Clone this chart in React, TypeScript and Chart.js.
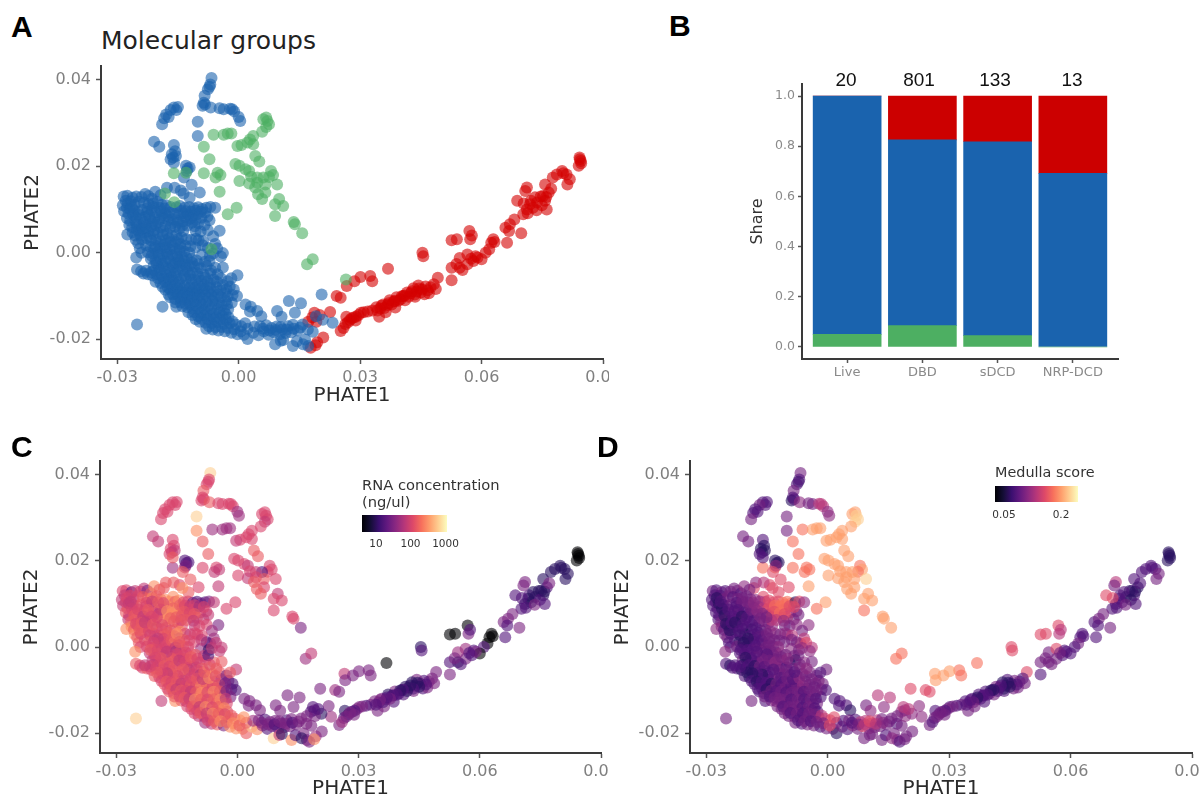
import React, { useEffect, useRef } from "react";
import { Chart, registerables } from "chart.js";

Chart.register(...registerables);

// Rows: PHATE1 (x1000), PHATE2 (x1000), RNA colour level, medulla colour level
const greenPoints = [
  [6.8,31.3,6,8],[6.1,30.9,6,8],[7.1,30.5,6,9],[7.5,29.7,6,9],[6.8,29.1,5,9],[5.8,28,6,8],[-6.2,27.3,4,7],[-3.7,27.3,4,8],[-2.7,27.6,4,8],[-1.8,27.6,4,8],
  [3.6,27,6,8],[2.8,26.2,6,8],[2.2,25.5,6,8],[0.7,24.9,6,8],[-0.3,24.7,5,8],[3.6,25.1,6,8],[-8.6,24.5,7,7],[-7.2,21.6,7,7],[4.1,22.4,7,8],[5.1,21.1,7,8],
  [-0.8,20.5,6,8],[0.2,20.1,6,8],[1.7,19.3,6,8],[2.6,18.9,5,8],[-8.6,18.4,6,7],[-5.2,18.5,6,7],[-4.5,18,5,7],[-5.7,17.4,5,7],[8,18.9,6,7],[8.5,18,6,8],
  [7.5,17.5,6,7],[6.1,17.4,2,8],[4.6,17.4,5,8],[3.1,17.6,6,8],[0.2,16.6,6,8],[2.6,16,5,8],[4.6,16.2,6,8],[6.6,15.8,7,8],[9.5,15.8,6,9],[4.1,15.1,7,8],
  [6.6,13.9,6,8],[-4.7,14.1,5,8],[4.8,13.5,7,8],[5.8,12.4,7,8],[10,12.4,5,8],[9,11.2,6,8],[11,10.8,6,8],[-0.5,10.4,6,8],[-2.7,8.9,6,7],[9,8.5,6,7],
  [13.6,7.1,6,8],[13.9,6.6,6,8],[15.7,4.5,3,8],[16.9,-2.7,4,7],[18.3,-1.5,5,7],[26.5,-6.2,5,8],[-16,18.4,4,7],[-13,18.5,5,7],[-18.2,13.7,7,6],[-15.9,11.7,8,6],[-6.7,0.8,4,6],
];

const bluePointsUpper = [
  [-6.7,40.4,9,3],[-7.2,38.4,6,1],[-7.6,37.8,6,2],[-7,38.9,6,2],[-8.4,36.3,7,3],[-8.6,34.7,6,2],[-8.9,34,6,1],[-8.3,34.3,6,2],[-6.9,33.6,7,4],[-4.7,33.4,6,3],[-3.7,33.2,6,3],[-1.6,33.2,6,5],[-2.1,33.3,6,5],
  [-1.1,32.7,6,5],[0,31.4,4,4],[0.4,30.5,4,4],[-10.1,30.3,9,3],[-10.1,27,8,3],[-15,33.7,6,2],[-16,33.6,6,2],[-15.4,33,6,2],[-16.8,33,6,3],[-17.9,32,6,2],[-17.3,31.4,6,2],[-18.4,31.1,6,2],
  [-18.9,29.7,6,3],[-20.9,25.7,5,3],[-19.6,24.5,5,3],[-16,24.9,6,2],[-15.7,23.5,6,1],[-16.5,22.8,6,1],[-15.5,22.4,5,1],[-16.2,22,5,1],[-16.8,21.6,6,2],[-16,20.8,7,2],[-13,20.1,2,1],
  [-12.1,19.7,2,1],[-12.6,19.5,2,1],[-12.8,18.9,3,4],[-13.5,17.4,7,6],[-11.6,15.7,7,6],[-14.3,14.4,6,6],[-9.6,13.9,6,6],[-12.1,12.7,7,6],[-17.7,15,7,4],[-15.8,15,7,5],[-13.6,13.7,8,6],
];

const bluePointsMass = [
  [-28.4,13,6,3],[-27.5,13.2,6,2],[-26.2,12.7,2,3],[-25.3,13,5,2],[-24,12.9,6,3],[-23.1,13.6,5,3],[-22.3,13.1,3,3],[-21.4,12.5,7,2],[-20.6,14.1,8,4],[-19.3,13.3,7,3],
  [-27.9,12,5,2],[-28.6,11,5,2],[-27.6,10.4,6,2],[-28.3,9.6,5,2],[-27.2,9,6,2],[-27.6,8,7,2],[-26.8,7.4,6,2],[-27,6.4,5,2],[-26.3,5.8,7,3],[-26.2,4.7,8,3],
  [-27.5,4.2,8,4],[-25.6,4,7,2],[-25.4,3,8,3],[-24.8,2.2,7,3],[-24.4,1,7,2],[-24,0,6,2],[-25.3,-1.1,8,4],[-25.1,-3.9,7,2],[-24.1,-4.3,6,1],[-23.5,-4.8,6,2],
  [-26.6,11.9,6,2],[-25.7,11.1,5,3],[-24.6,11.8,6,3],[-23.4,11.6,7,2],[-22.2,11.2,7,3],[-21.1,11.4,8,3],[-20,11.8,7,3],[-19,11.1,7,3],[-17.9,11,8,4],[-16.8,10.6,8,4],
  [-15.4,10.5,7,5],[-14.5,10.8,8,6],[-13.3,10.4,6,6],[-12.2,10.6,6,6],[-11,10.3,3,7],[-10,10.5,2,7],[-9,10.1,3,7],[-8,10.4,2,1],[-7,10.6,3,6],[-5.8,10.4,5,4],
  [-25.9,9.8,6,2],[-24.9,9.5,6,2],[-23.8,9.9,7,3],[-22.6,9.4,6,2],[-21.5,9.8,7,3],[-20.4,9.3,5,3],[-19.2,9.6,8,3],[-18.1,9.1,8,3],[-17,9.3,8,4],[-15.9,9,7,5],
  [-14.7,8.9,8,6],[-13.6,9.1,7,6],[-12.5,8.8,7,7],[-11.3,8.6,6,6],[-10.3,8.9,7,6],[-9.2,8.1,5,5],[-7.7,8.3,6,4],[-25.4,8.2,6,2],[-24.2,7.9,7,3],[-23,8.3,6,2],
  [-21.9,7.8,7,3],[-20.7,8.1,6,2],[-19.6,7.6,5,2],[-18.4,8,7,3],[-17.3,7.5,8,3],[-16.1,7.8,8,3],[-15,7.4,8,4],[-13.8,7.2,6,6],[-12.7,7.5,7,6],[-11.5,6.9,6,6],
  [-10,6.8,7,6],[-8.4,6.4,5,3],[-7.2,7.5,5,3],[-25.2,6.6,7,3],[-24,6.1,6,2],[-22.8,6.6,6,2],[-21.6,6,5,2],[-20.5,6.4,6,3],[-19.3,5.9,7,2],[-18.1,6.2,8,2],
  [-16.9,5.8,8,3],[-15.7,6,7,4],[-14.6,5.6,7,3],[-13.7,5,6,4],[-10.6,5,5,3],[-9.4,4.9,6,3],[-7.6,5.2,6,4],[-4.7,5.1,3,4],[-6.3,3.8,4,3],
  [-24.7,5,7,2],[-23.5,4.6,7,2],[-22.3,4.9,6,2],[-21.1,4.3,6,1],[-20,4.6,5,2],[-18.8,4.1,7,1],[-17.7,4.4,7,2],[-16.5,3.9,6,2],[-15.4,4.1,7,3],[-14.1,3.6,8,4],
  [-12.9,3.1,6,4],[-11.7,3,5,3],[-10.5,3.2,6,4],[-9.9,2.9,6,4],[-8.8,2.7,6,5],[-5.8,2,4,5],[-23.9,3.1,6,2],[-22.7,3.4,7,2],[-21.6,2.8,5,1],[-20.4,3,6,1],[-19.2,2.6,6,2],
  [-18,2.9,7,2],[-16.8,2.4,7,3],[-15.6,2.5,6,3],[-14.4,2,5,3],[-13.2,1.6,7,3],[-11.9,1.5,6,3],[-10.7,1.2,6,3],[-7.6,1.1,2,3],[-5.3,1,5,6],[-22.9,1.7,6,2],
  [-21.7,1.3,7,1],[-20.5,1.6,5,2],[-19.4,1,6,2],[-18.2,1.2,6,2],[-17,0.8,7,2],[-15.8,0.9,8,3],[-14.6,0.5,6,3],[-13.4,0.2,7,3],[-12.2,0,6,4],[-9,-0.4,4,4],
  [-7.1,-0.7,1,3],[-3.9,-0.1,5,5],[-4.4,-0.9,5,4],[-22.4,0.1,6,3],[-21.2,-0.2,6,2],[-20,0.1,7,2],[-18.8,-0.5,5,2],[-17.6,-0.3,6,3],[-16.4,-0.7,6,3],[-15.2,-1,3,2],
  [-14,-0.9,7,3],[-12.8,-1.2,6,3],[-11.6,-1.4,6,4],[-10.4,-1.8,7,3],[-8.3,-2.1,5,3],[-21.7,-1.4,5,2],[-20.5,-1.8,6,2],[-19.3,-1.5,7,2],[-18.1,-2,5,3],[-16.9,-1.9,6,3],
  [-15.7,-2.4,7,3],[-14.5,-2.2,6,3],[-13.3,-2.7,7,3],[-12.1,-2.9,6,3],[-10.9,-3.2,7,4],[-9.4,-3.6,5,2],[-7.9,-3,6,1],[-5.8,-3.5,7,4],[-21,-3,5,3],[-19.8,-3.3,6,2],
  [-18.6,-3.1,6,2],[-17.4,-3.6,5,2],[-16.2,-3.4,7,3],[-15,-3.9,6,3],[-13.8,-4.1,6,3],[-12.6,-4.4,7,3],[-11.4,-4.6,6,3],[-10.2,-4.7,5,2],[-8.7,-5,7,3],[-7,-4.8,8,4],
  [-22.4,-5,7,2],[-21.3,-5.3,6,1],[-20.2,-5,6,2],[-19,-5.4,5,1],[-17.8,-5.1,5,2],[-16.6,-5.6,6,2],[-15.4,-5.5,6,3],[-14.2,-5.9,7,2],[-13,-6.1,6,3],[-11.8,-6.2,7,3],
  [-10.6,-6.4,6,3],[-9.2,-6.5,3,2],[-7.7,-6.6,7,3],[-6.2,-6.2,8,3],[-3.9,-3.4,7,3],[-0.3,-5.2,5,3],[-20.5,-6.7,7,2],[-19.3,-7,6,1],[-18.1,-6.8,6,1],[-16.9,-7.3,5,2],
  [-15.7,-7.2,6,2],[-14.5,-7.6,7,2],[-13.3,-7.7,5,3],[-12.1,-8,6,3],[-10.9,-8.1,7,2],[-9.7,-8.2,6,3],[-8.5,-8.4,8,3],[-7.1,-8.1,7,4],[-5.5,-8,7,3],[-3.9,-7.5,4,3],
  [-2.2,-7.8,3,4],[-1.2,-8.5,2,3],[-18.1,-8.6,7,2],[-16.9,-8.5,6,1],[-15.7,-9,5,2],[-14.5,-9.1,7,2],[-13.3,-9.3,6,2],[-12.1,-9.4,5,3],[-10.9,-9.6,8,3],
  [-9.7,-9.8,7,3],[-8.3,-9.6,7,2],[-6.8,-9.7,8,3],[-5.1,-9.6,6,3],[-3.3,-9.3,3,2],[-1.5,-9.8,2,3],[-0.4,-10,2,2],[-16.9,-10.3,7,2],[-15.7,-10.7,6,2],
  [-14.5,-10.5,7,3],[-13.3,-10.9,5,2],[-12.1,-11,6,3],[-10.8,-11.3,6,3],[-9.4,-11.5,8,3],[-7.9,-11.4,7,2],[-6.4,-11.2,8,3],[-4.8,-11.4,7,3],[-3.2,-11.1,3,3],[-1.7,-11.6,3,2],
  [-18.8,-12.5,5,3],[-25.1,-16.6,9,3],[-15.4,-12.5,8,2],[-13.9,-12.4,7,3],[-12.7,-12.6,5,4],[-11.4,-13,6,3],[-10,-13,6,3],[-8.4,-13.1,7,3],[-6.8,-13,8,3],[-5.2,-13,7,2],
  [-3.6,-13.3,8,3],[-2.6,-13.1,6,3],[1.7,-12,3,2],[3,-12.5,3,2],[4.6,-13.5,3,2],[2.8,-13.6,3,2],[5.6,-14.7,3,1],[-11.4,-14.4,6,3],[-10,-14.7,5,3],
  [-8.6,-14.5,6,2],[-7.1,-14.6,8,3],[-5.6,-14.9,7,2],[-4,-14.6,8,3],[-2.5,-15,6,2],[-9.6,-16,5,3],[-8.2,-16.2,6,3],[-6.7,-16.3,6,2],[-5.2,-16.1,7,3],
  [-3.7,-16.5,8,2],[-2.2,-16.3,8,4],[-0.7,-16.6,7,6],[0.6,-17,8,6],[-8,-17.6,4,3],[-6.4,-17.8,5,2],[-5,-18,7,3],[-3.4,-18.2,3,3],[-1.8,-18.5,8,2],[-0.3,-18.9,8,3],
  [1.3,-19,8,4],[2.2,-20,7,1],[3.6,-18.5,9,3],[4.9,-19.1,8,2],[6.2,-18.2,4,4],[7.4,-19,2,3],[2.2,-17.6,7,3],[3.9,-17.1,4,2],[5.3,-17,3,3],[6.8,-16.8,2,2],
  [8.1,-17.4,3,5],[9.4,-17.1,3,5],[10.8,-17.7,3,6],[12.2,-17,2,5],[13.4,-16.7,3,3],[8.7,-18.4,3,6],[10.2,-18.9,2,5],[11.6,-18.6,3,4],[13,-18.4,3,3],[14.6,-18,3,3],
  [15.8,-16.6,3,3],[17.1,-17.8,3,2],[18.3,-18.3,3,3],[9.5,-13.5,3,3],[12.4,-11.2,3,5],[15.4,-11.7,3,5],[20.5,-9.7,3,6],[9,-21.2,9,3],[10.4,-20.4,5,3],[13.4,-21.6,8,3],
  [11,-20.2,1,3],[14.4,-20.5,2,2],[16.4,-20.1,3,3],[17.2,-21.6,3,3],[15.9,-21.2,1,4],[23.2,-16.2,4,4],[19.1,-14.7,3,3],[20.8,-15.5,1,4],[13.9,-13.9,3,4],[10.6,-14.8,3,4],
];

const bluePointsDense = [
  [-27.4,11.4,6,1],[-26.9,10.1,5,1],[-26.1,8.9,6,1],[-26.4,10.6,5,2],[-25.5,7.3,7,1],[-24.6,8.7,6,2],[-25.1,5.4,6,1],[-24.2,3.9,7,1],[-23.3,7.1,5,2],[-23.7,5.6,7,2],
  [-22.5,10.3,6,2],[-21.1,10.6,5,3],[-22.1,8.6,7,2],[-21.2,7.1,6,1],[-22.9,5.7,5,1],[-21.9,3.7,6,2],[-20.9,5.2,7,2],[-19.9,7,6,2],[-18.9,8.7,5,3],[-19.6,10.4,7,3],
  [-18.3,10.2,6,4],[-17.4,8.4,8,4],[-16.6,6.7,7,3],[-18.6,5.1,6,2],[-17.2,3.3,7,2],[-18.3,1.9,6,2],[-19.7,2,5,1],[-20.8,1,6,1],[-21.5,-0.7,7,2],[-19.7,-0.7,6,2],
  [-17.8,0.3,6,2],[-16.3,1.6,7,2],[-15,3.1,8,3],[-15.3,-0.1,5,3],[-14.4,1.2,7,3],[-13.4,-1.9,6,3],[-15,-1.7,6,2],[-16.2,-2.8,7,3],[-17.5,-1.1,5,2],[-18.9,-2.6,7,2],
  [-20.3,-2.5,6,1],[-20.9,-4.1,5,1],[-19.5,-4.2,6,2],[-18.1,-4.4,7,1],[-16.8,-4.5,6,3],[-15.6,-4.6,7,2],[-14.4,-3.1,5,3],[-12.9,-3.5,6,4],[-11.5,-2.3,7,3],[-9.9,-2.7,6,4],
  [-12,-5.3,5,3],[-13.4,-5.2,7,2],[-14.8,-6.7,6,2],[-16.2,-6.4,7,1],[-17.4,-6.1,5,2],[-18.6,-6.1,6,1],[-19.9,-5.9,7,1],[-21.6,-4.5,6,2],[-22.9,-4.2,5,2],[-18.8,-7.9,6,2],
  [-17.5,-8,7,1],[-16.3,-8.1,6,2],[-15.1,-8.3,7,2],[-13.9,-8.5,5,1],[-12.7,-8.7,6,3],[-11.5,-8.8,7,2],[-10.3,-9,6,3],[-9,-9,8,2],[-7.5,-8.9,7,3],[-6.1,-8.9,6,4],
  [-4.5,-8.7,7,3],[-3,-8.4,3,3],[-11.5,-7.1,6,2],[-10,-7.3,7,3],[-8.6,-7.4,5,2],[-7,-7.2,8,4],[-5.4,-6.7,6,3],[-4.4,-5.9,7,3],[-9.9,-5.5,6,3],[-8.2,-5.8,7,2],
  [-17.3,-9.7,6,2],[-16.2,-9.6,7,2],[-15.1,-9.8,5,1],[-13.9,-10.1,7,3],[-12.7,-10.2,6,2],[-11.5,-10.3,5,3],[-10.2,-10.5,7,2],[-8.9,-10.6,8,3],[-7.4,-10.5,6,3],[-5.9,-10.4,8,2],
  [-4.3,-10.3,7,3],[-2.7,-10.2,3,3],[-15.6,-11.5,7,3],[-14.3,-11.5,6,2],[-13.1,-11.8,7,3],[-11.9,-12,5,3],[-10.5,-12.2,8,3],[-9,-12.2,7,2],[-7.4,-12.2,6,3],[-5.8,-12.1,7,2],
  [-4.2,-12.2,8,3],[-2.9,-12,5,2],[-12.4,-13.8,6,3],[-11,-13.8,7,2],[-9.4,-13.9,5,3],[-7.9,-13.9,8,3],[-6.2,-14,6,2],[-4.7,-13.9,7,3],[-3.2,-14.2,8,2],[-10.6,-15.4,6,3],
  [-9.2,-15.3,7,2],[-7.6,-15.4,5,3],[-6.1,-15.4,8,2],[-4.6,-15.4,7,3],[-3.1,-15.6,6,3],[-1.5,-15.9,7,5],[-7.3,-17,6,2],[-5.8,-17.2,7,3],[-4.2,-17.2,8,2],[-2.7,-17.4,7,3],
  [-1.1,-17.7,8,3],[0.5,-18.2,7,6],[1.6,-16.3,8,6],[6,-17.6,3,2],[7.6,-18,3,3],[9.2,-17.9,2,5],[10.4,-17.2,3,6],[11.9,-17.8,3,5],[13.6,-17.6,2,4],[15.2,-17.3,3,3],
  [-14.2,9.7,7,6],[-13,9.6,6,7],[-11.7,9.5,5,7],[-10.6,9.7,6,7],[-9.4,9.5,4,6],[-8.3,9.3,6,6],[-13.2,8.2,7,6],[-11.8,7.9,6,7],[-10.6,7.7,7,6],[-13.9,6.3,6,5],
  [-12.7,6.3,7,5],[-10.9,6.1,5,4],[-15.1,6.9,7,3],[-8.9,1.7,5,3],[-7.2,-1.9,2,3],[-6.3,-0.2,5,4],[-6.8,-4.1,6,3],[-5.2,-5,7,4],[-2.7,-6.6,3,3],[-1.8,-5.9,7,2],
];

const redPointsUpper = [
  [84.2,22,0,1],[84.5,21.2,0,1],[84,20.1,0,1],[84.3,21.6,0,1],[84.6,20.7,0,1],[79.9,18.9,1,2],[81,18.1,1,2],[80.2,18.4,1,2],[78.6,18.1,1,2],[77.6,17.4,1,2],[81.8,17,1,3],[81.2,15.8,1,3],[75.7,15.8,1,2],
  [71.2,15.1,3,5],[76.6,13.9,2,1],[75.2,13.1,1,2],[70.8,14.3,3,3],[68.8,12,2,6],[72.2,12,2,2],[73.7,11.6,1,1],[75.7,12,1,2],[72.7,10.4,1,2],[71.2,10,1,2],
  [74.6,13,1,1],[73.2,12.8,1,2],[74.9,11,2,1],[76,12.9,1,1],[77.2,14.8,3,2],[72,11.2,1,2],[70.4,11.4,2,6],[71.4,9.1,2,2],[73.6,9.8,3,3],
  [70.3,8.9,2,2],[76.1,10,2,2],[68.1,7.7,3,3],[65.9,5.8,3,2],[67,6.6,3,3],[66.8,5,2,2],[69.8,4.5,3,3],[66.3,2.3,2,2],[62.9,3.1,0,2],[62.4,2.3,0,2],[63.2,2.5,0,2],[61.9,0.8,0,3],
  [61,0,2,2],[57,5,0,6],[57.2,3.1,3,5],[57.6,4,2,5],[52.6,2.9,0,6],[53.9,3.1,0,6],[45.4,0,1,6],[45.6,-0.8,2,6],[36.9,-3.7,0,7],[32.5,-5.4,3,7],[30.1,-5.6,3,8],
  [28.6,-6.6,3,8],[33,-6.6,3,7],[26.7,-7.7,3,8],[24.2,-10,4,6],[25.2,-10.4,3,6],[54.6,-1.2,4,3],[56.5,-0.4,4,6],[58.5,-0.8,2,2],[60,-1.5,0,2],[54.6,-3.5,1,3],
  [56.5,-2.7,3,3],[58,-1.9,2,2],[52.6,-3.5,2,3],[55.3,-4,2,3],[59,-1.1,3,2],[57.4,-1.4,2,3],[53.8,-2.6,3,3],
];

const redPointsArc = [
  [52.6,-6.4,3,2],[49.2,-5.8,3,6],[48.2,-7.3,3,2],[47.4,-8,3,2],[46.2,-7.8,2,3],[45.3,-8.5,2,1],[44.4,-7.6,3,2],[44,-9,2,2],[43.2,-8.2,1,1],[42.5,-9.4,2,2],
  [41.6,-9.2,1,3],[40.7,-10,1,2],[40,-10.8,2,3],[39,-10.3,3,2],[38.3,-11.3,2,2],[37.3,-11,1,2],[36.8,-12.1,2,3],[35.7,-12,3,2],[35,-12.9,2,3],[34,-12.6,3,2],
  [33,-13.4,3,3],[31.9,-13.6,2,2],[30.2,-13.9,3,2],[29.6,-14.4,3,3],[28.4,-15,2,3],[27.5,-15.6,2,3],[26.6,-14.8,1,2],[26.4,-16.5,2,3],[25.2,-18.1,3,3],[25.9,-17.4,4,2],
  [34.7,-14.8,3,3],[36.3,-13.8,3,3],[38.7,-12.7,2,2],[41.1,-11,2,3],[43.6,-10.2,3,2],[45.9,-9.6,2,3],[47,-9.4,3,3],[48.7,-8.4,3,3],
  [46.7,-8.7,2,2],[45,-9.2,1,1],[44.6,-8.3,1,1],[43.5,-9.7,2,1],[42.8,-8.9,1,2],[42,-10.2,1,2],[41,-9.9,2,1],[40.3,-10.1,1,1],[39.5,-11.1,2,2],[38.6,-11.2,2,2],
  [37.8,-12,3,2],[37,-11.7,2,1],[36,-12.8,2,3],[35.3,-12.3,3,2],[34.3,-13.4,2,2],[30.9,-13.8,3,3],[29,-14.8,2,2],[27.9,-15.2,3,3],[27,-16.1,3,3],[28.9,-15.7,3,3],
  [19.2,-16,3,4],[22.6,-13.7,3,4],[18.2,-15,2,4],[17.2,-16,3,3],[19.4,-20.7,4,3],[20.9,-19.6,3,3],[17.8,-22,3,2],[19,-21.4,8,3],[20,-14.4,2,5],[18.7,-13.9,2,5],
];

const bluePoints = [...bluePointsUpper, ...bluePointsMass, ...bluePointsDense];
const redPoints = [...redPointsUpper, ...redPointsArc];
const allPoints = [...greenPoints, ...bluePoints, ...redPoints];

const xTicks = [-0.03, 0, 0.03, 0.06, 0.09];
const yTicks = [-0.02, 0, 0.02, 0.04];
const magma = ["#000004", "#140e36", "#3b0f70", "#641a80", "#8c2981", "#b73779", "#de4968", "#f7705c", "#fe9f6d", "#fecf92"];
const rnaPalette = ["#000004", "#2a1160", "#511279", "#7a2380", "#9c2e7f", "#c23b75", "#d8446c", "#ea5a60", "#fb8d63", "#fecf92"];
const medullaPalette = ["#000004", "#2a1160", "#511279", "#73207f", "#8c2981", "#b73779", "#de4968", "#f7705c", "#fe9f6d", "#fecf92"];

const barCategories = ["Live", "DBD", "sDCD", "NRP-DCD"];
const barCounts = ["20", "801", "133", "13"];
const barCountCentres = [846, 919, 995, 1072];
const shareGreen = [0.05, 0.085, 0.045, 0];
const shareBlue = [0.95, 0.74, 0.773, 0.692];
const shareRed = [0, 0.175, 0.182, 0.308];
const shareTicks = [0, 0.2, 0.4, 0.6, 0.8, 1];

const GROUP_BLUE = "#1A63AE";
const GROUP_RED = "#D40000";
const GROUP_GREEN = "#4DAF62";
const TICK_COLOR = "#808080";
const AXIS_COLOR = "#3a3a3a";
const TITLE_COLOR = "#2b2b2b";
const SANS = "'DejaVu Sans'";
const DOT_RADIUS = 6;

const hexA = (hex: string, a: number) => {
  const n = parseInt(hex.slice(1), 16);
  return `rgba(${(n >> 16) & 255},${(n >> 8) & 255},${n & 255},${a})`;
};
const toXY = (rows: number[][]) => rows.map((r) => ({ x: r[0] / 1000, y: r[1] / 1000 }));

type Box = { left: number; top: number; right: number; bottom: number; pLeft: number; pTop: number; pRight: number; pBottom: number };

function scatterScales(b: Box, yTitlePad: number) {
  return {
    x: {
      type: "linear",
      min: -0.034,
      max: 0.09,
      afterBuildTicks: (s: any) => { s.ticks = xTicks.map((value) => ({ value })); },
      afterFit: (s: any) => { s.height = b.bottom - b.pBottom; s.paddingLeft = 0; s.paddingRight = 0; },
      ticks: { autoSkip: false, maxRotation: 0, color: TICK_COLOR, padding: 4, font: { family: SANS, size: 16 }, callback: (v: number) => v.toFixed(2) },
      grid: { drawOnChartArea: false, drawTicks: true, tickLength: 5, tickColor: "#555", tickWidth: 1.5 },
      border: { display: true, color: AXIS_COLOR, width: 2 },
      title: { display: true, text: "PHATE1", color: TITLE_COLOR, padding: { top: 0, bottom: 0 }, font: { family: SANS, size: 20 } },
    },
    y: {
      type: "linear",
      min: -0.0246,
      max: 0.0432,
      afterBuildTicks: (s: any) => { s.ticks = yTicks.map((value) => ({ value })); },
      afterFit: (s: any) => { s.width = b.pLeft - b.left; s.paddingTop = 0; s.paddingBottom = 0; },
      ticks: { color: TICK_COLOR, padding: 5, font: { family: SANS, size: 16 }, callback: (v: number) => v.toFixed(2) },
      grid: { drawOnChartArea: false, drawTicks: true, tickLength: 5, tickColor: "#555", tickWidth: 1.5 },
      border: { display: true, color: AXIS_COLOR, width: 2 },
      title: { display: true, text: "PHATE2", color: TITLE_COLOR, padding: { top: yTitlePad, bottom: 0 }, font: { family: SANS, size: 20 } },
    },
  };
}

function baseOptions(b: Box) {
  return {
    responsive: false,
    animation: false,
    events: [],
    layout: { padding: { left: 0, top: b.pTop - b.top, right: b.right - b.pRight, bottom: 0 } },
    plugins: { legend: { display: false }, title: { display: false }, tooltip: { enabled: false } },
  };
}

const boxA: Box = { left: 10, top: 60, right: 609, bottom: 408, pLeft: 101, pTop: 65, pRight: 605, pBottom: 359 };
const boxB: Box = { left: 740, top: 80, right: 1125, bottom: 385, pLeft: 802, pTop: 84, pRight: 1118, pBottom: 359 };
const boxC: Box = { left: 9, top: 455, right: 608, bottom: 801, pLeft: 100, pTop: 460, pRight: 601, pBottom: 753 };
const boxD: Box = { left: 600, top: 455, right: 1200, bottom: 801, pLeft: 690, pTop: 460, pRight: 1192, pBottom: 753 };

function configA() {
  const mk = (rows: number[][], c: string) => ({ data: toXY(rows), pointRadius: DOT_RADIUS, pointBorderWidth: 0, pointBackgroundColor: hexA(c, 0.6), showLine: false });
  return {
    type: "scatter",
    data: { datasets: [mk(greenPoints, GROUP_GREEN), mk(bluePoints, GROUP_BLUE), mk(redPoints, GROUP_RED)] },
    options: { ...baseOptions(boxA), scales: scatterScales(boxA, 11) },
  };
}

function configLevel(b: Box, col: number, palette: string[]) {
  return {
    type: "scatter",
    data: {
      datasets: [{
        data: toXY(allPoints),
        pointRadius: DOT_RADIUS,
        pointBorderWidth: 0,
        pointBackgroundColor: allPoints.map((r) => hexA(palette[r[col]], 0.6)),
        showLine: false,
      }],
    },
    options: { ...baseOptions(b), scales: scatterScales(b, 11) },
  };
}

function configB() {
  const ds = (vals: number[], c: string) => ({
    data: vals.map((y, i) => ({ x: i + 1, y })),
    backgroundColor: c,
    barThickness: 68,
    stack: "s",
  });
  return {
    type: "bar",
    data: { datasets: [ds(shareGreen, "#4DAF62"), ds(shareBlue, GROUP_BLUE), ds(shareRed, "#CC0000")] },
    options: {
      ...baseOptions(boxB),
      scales: {
        x: {
          type: "linear",
          stacked: true,
          offset: false,
          min: 0.4,
          max: 4.6,
          afterBuildTicks: (s: any) => { s.ticks = barCategories.map((_, i) => ({ value: i + 1 })); },
          afterFit: (s: any) => { s.height = boxB.bottom - boxB.pBottom; s.paddingLeft = 0; s.paddingRight = 0; },
          ticks: { autoSkip: false, maxRotation: 0, color: "#8a8a8a", padding: 2, font: { family: SANS, size: 13 }, callback: (v: number) => barCategories[v - 1] },
          grid: { offset: false, drawOnChartArea: false, drawTicks: true, tickLength: 4, tickColor: "#555", tickWidth: 1.5 },
          border: { display: true, color: AXIS_COLOR, width: 2 },
        },
        y: {
          type: "linear",
          stacked: true,
          min: -0.048,
          max: 1.048,
          afterBuildTicks: (s: any) => { s.ticks = shareTicks.map((value) => ({ value })); },
          afterFit: (s: any) => { s.width = boxB.pLeft - boxB.left; s.paddingTop = 0; s.paddingBottom = 0; },
          ticks: { color: "#8a8a8a", padding: 3, font: { family: SANS, size: 12.5 }, callback: (v: number) => v.toFixed(1) },
          grid: { drawOnChartArea: false, drawTicks: true, tickLength: 4, tickColor: "#555", tickWidth: 1.5 },
          border: { display: true, color: AXIS_COLOR, width: 2 },
          title: { display: true, text: "Share", color: "#333", padding: { top: 8, bottom: 0 }, font: { family: SANS, size: 16 } },
        },
      },
    },
  };
}

function Panel({ box, config }: { box: Box; config: () => any }) {
  const ref = useRef<HTMLCanvasElement>(null);
  useEffect(() => {
    const chart = new Chart(ref.current as HTMLCanvasElement, config());
    return () => chart.destroy();
  }, []);
  return (
    <canvas
      ref={ref}
      width={box.right - box.left}
      height={box.bottom - box.top}
      style={{ position: "absolute", left: box.left, top: box.top, width: box.right - box.left, height: box.bottom - box.top }}
    />
  );
}

const text = (s: React.CSSProperties): React.CSSProperties => ({ position: "absolute", whiteSpace: "nowrap", lineHeight: 1, ...s });
const letter = (left: number, top: number): React.CSSProperties =>
  text({ left, top, fontFamily: "'Liberation Sans'", fontWeight: 700, fontSize: 30, color: "#000" });
const legendGradient = `linear-gradient(to right, ${[...magma, "#fcfdbf"].join(",")})`;

export default function App() {
  return (
    <div style={{ position: "absolute", left: 0, top: 0, width: 1200, height: 801, overflow: "hidden", background: "#fff", filter: "blur(0.5px)" }}>
      <Panel box={boxA} config={configA} />
      <Panel box={boxB} config={configB} />
      <Panel box={boxC} config={() => configLevel(boxC, 2, rnaPalette)} />
      <Panel box={boxD} config={() => configLevel(boxD, 3, medullaPalette)} />

      <div style={letter(11, 12)}>A</div>
      <div style={letter(669, 11)}>B</div>
      <div style={letter(11, 432)}>C</div>
      <div style={letter(597, 432)}>D</div>

      <div style={text({ left: 101, top: 28, fontFamily: SANS, fontSize: 25, color: "#222" })}>Molecular groups</div>

      {barCounts.map((c, i) => (
        <div key={c} style={text({ left: barCountCentres[i] - 30, width: 60, textAlign: "center", top: 70, fontFamily: "'Liberation Sans'", fontSize: 19, color: "#111" })}>{c}</div>
      ))}

      <div style={text({ left: 362, top: 478, fontFamily: SANS, fontSize: 14.7, color: "#333" })}>RNA concentration</div>
      <div style={text({ left: 362, top: 495, fontFamily: SANS, fontSize: 14.7, color: "#333" })}>(ng/ul)</div>
      <div style={{ position: "absolute", left: 362, top: 515, width: 85, height: 17, background: legendGradient }} />
      {[["10", 376], ["100", 410.5], ["1000", 445.5]].map(([t, c]) => (
        <div key={t as string} style={text({ left: (c as number) - 20, width: 40, textAlign: "center", top: 538, fontFamily: SANS, fontSize: 10.5, color: "#333" })}>{t}</div>
      ))}

      <div style={text({ left: 995, top: 465, fontFamily: SANS, fontSize: 14.4, color: "#333" })}>Medulla score</div>
      <div style={{ position: "absolute", left: 995, top: 486, width: 83, height: 16, background: legendGradient }} />
      {[["0.05", 1004], ["0.2", 1061]].map(([t, c]) => (
        <div key={t as string} style={text({ left: (c as number) - 20, width: 40, textAlign: "center", top: 509, fontFamily: SANS, fontSize: 10.5, color: "#333" })}>{t}</div>
      ))}
    </div>
  );
}
